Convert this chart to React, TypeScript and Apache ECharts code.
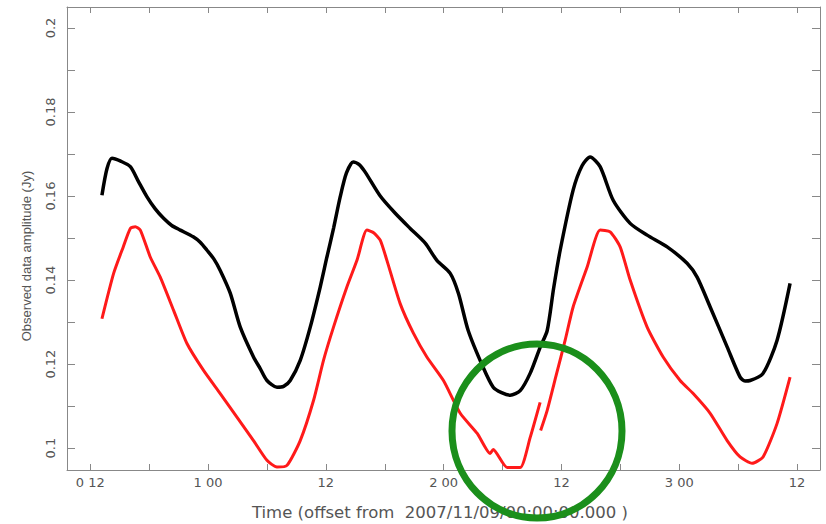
import React, { useEffect, useRef } from "react";
import * as echarts from "echarts";

// Time in hours from 2007/11/09 00:00:00
const blackHours = [13.19, 13.7, 14.21, 15.1, 16.08, 16.9, 17.78, 18.6, 19.47, 20.3, 21.17, 22.49, 23.2, 23.89, 24.6, 25.24, 26.26, 27.28, 28.63, 29.3, 30.0, 31.02, 31.7, 32.37, 33.39, 34.41, 35.43, 36.11, 36.8, 37.46, 38.1, 38.79, 39.4, 40.01, 41.54, 43.07, 44.59, 46.12, 47.31, 48.67, 49.51, 50.5, 52.03, 53.05, 53.9, 54.78, 55.8, 56.81, 57.83, 58.55, 59.2, 59.87, 61.19, 62.1, 62.92, 63.94, 65.27, 67.0, 68.73, 70.77, 72.8, 73.82, 75.15, 76.88, 78.2, 78.7, 79.22, 80.54, 81.97, 83.29];
const blackValues = [0.1602, 0.1665, 0.169, 0.1683, 0.167, 0.1635, 0.1598, 0.157, 0.1547, 0.153, 0.1519, 0.1503, 0.149, 0.1471, 0.145, 0.1423, 0.1369, 0.1288, 0.1217, 0.119, 0.1161, 0.1145, 0.1147, 0.1161, 0.1209, 0.1288, 0.1384, 0.1455, 0.1525, 0.1598, 0.1655, 0.1681, 0.1675, 0.1657, 0.16, 0.1559, 0.1523, 0.1488, 0.1447, 0.1416, 0.1368, 0.128, 0.1192, 0.1145, 0.1132, 0.1126, 0.1137, 0.1178, 0.124, 0.128, 0.138, 0.1471, 0.1614, 0.1672, 0.1693, 0.167, 0.159, 0.1535, 0.1507, 0.1479, 0.144, 0.1407, 0.1336, 0.1241, 0.1169, 0.116, 0.1161, 0.1178, 0.1257, 0.1392];

// null marks the gap between the two overlapping red stretches
const redHours = [13.19, 14.38, 15.36, 16.08, 16.59, 17.1, 18.11, 19.13, 20.49, 21.85, 23.54, 25.24, 26.94, 28.63, 30.0, 31.02, 32.04, 33.39, 34.75, 35.76, 36.78, 38.15, 39.17, 40.18, 40.9, 41.54, 42.22, 43.57, 44.93, 46.29, 47.98, 49.69, 51.42, 52.74, 53.05, 54.47, 55.8, 56.81, 57.83, 57.855, 57.88, 58.55, 59.46, 60.38, 61.19, 62.62, 63.94, 64.96, 65.98, 67.0, 68.73, 70.36, 72.09, 73.42, 75.15, 76.88, 78.2, 79.42, 80.54, 81.97, 83.29];
const redValues: (number | null)[] = [0.1308, 0.1416, 0.1479, 0.1523, 0.1527, 0.1519, 0.1455, 0.1407, 0.1328, 0.1249, 0.1185, 0.113, 0.1074, 0.1018, 0.0971, 0.0955, 0.0959, 0.1018, 0.1114, 0.1209, 0.1288, 0.1384, 0.1447, 0.1519, 0.1512, 0.1495, 0.1447, 0.1344, 0.1273, 0.1217, 0.1161, 0.1083, 0.1035, 0.0987, 0.0997, 0.0954, 0.0954, 0.1025, 0.1109, null, 0.1042, 0.109, 0.1173, 0.1257, 0.1336, 0.1431, 0.1519, 0.1515, 0.1479, 0.14, 0.1288, 0.1217, 0.1161, 0.113, 0.1083, 0.1018, 0.0979, 0.0964, 0.0979, 0.1059, 0.1169];

const xTickHours = [12, 24, 36, 48, 60, 72, 84];
const xTickLabels = ["0 12", "1 00", "12", "2 00", "12", "3 00", "12"];
const yTickValues = [0.1, 0.12, 0.14, 0.16, 0.18, 0.2];
const yTickLabels = ["0.1", "0.12", "0.14", "0.16", "0.18", "0.2"];

const xTitle = "Time (offset from  2007/11/09/00:00:00.000 )";
const yTitle = "Observed data amplitude (Jy)";

const X_MIN = 9.63;
const X_MAX = 86.34;
const Y_MIN = 0.0948;
const Y_MAX = 0.205;

const AXIS_COLOR = "#888";
const TEXT_COLOR = "#555";
const FONT = "DejaVu Sans";

export default function App() {
  const ref = useRef<HTMLDivElement>(null);
  useEffect(() => {
    if (!ref.current) return;
    const chart = echarts.init(ref.current, null, { renderer: "svg" });

    const xLabel = (v: number) => {
      for (let i = 0; i < xTickHours.length; i++) {
        if (Math.abs(v - xTickHours[i]) < 1e-6) return xTickLabels[i];
      }
      return "";
    };
    const yLabel = (v: number) => {
      for (let i = 0; i < yTickValues.length; i++) {
        if (Math.abs(v - yTickValues[i]) < 1e-7) return yTickLabels[i];
      }
      return "";
    };

    const commonX = {
      type: "value" as const,
      min: X_MIN,
      max: X_MAX,
      minInterval: 6,
      maxInterval: 6,
      splitLine: { show: false },
      axisLine: { show: true, onZero: false, lineStyle: { color: AXIS_COLOR, width: 1 } },
      axisTick: { show: true, inside: true, length: 6, lineStyle: { color: AXIS_COLOR } },
    };
    const commonY = {
      type: "value" as const,
      min: Y_MIN,
      max: Y_MAX,
      minInterval: 0.01,
      maxInterval: 0.01,
      splitLine: { show: false },
      axisLine: { show: true, onZero: false, lineStyle: { color: AXIS_COLOR, width: 1 } },
      axisTick: { show: true, inside: true, length: 8, lineStyle: { color: AXIS_COLOR } },
    };

    chart.setOption({
      animation: false,
      backgroundColor: "#ffffff",
      grid: { left: 67, right: 6, top: 7, bottom: 54, containLabel: false },
      xAxis: [
        {
          ...commonX,
          position: "bottom",
          axisLabel: {
            show: true,
            margin: 6,
            color: TEXT_COLOR,
            fontFamily: FONT,
            fontSize: 13,
            showMinLabel: false,
            showMaxLabel: false,
            formatter: xLabel,
          },
        },
        { ...commonX, position: "top", axisLabel: { show: false } },
      ],
      yAxis: [
        {
          ...commonY,
          position: "left",
          axisLabel: {
            show: true,
            rotate: 90,
            margin: 10,
            color: TEXT_COLOR,
            fontFamily: FONT,
            fontSize: 13,
            showMinLabel: false,
            showMaxLabel: false,
            formatter: yLabel,
          },
        },
        { ...commonY, position: "right", axisLabel: { show: false } },
      ],
      graphic: [
        {
          type: "text",
          x: 440,
          y: 512,
          style: {
            text: xTitle,
            fill: TEXT_COLOR,
            font: `16.5px ${FONT}`,
            textAlign: "center",
            textVerticalAlign: "middle",
          },
        },
        {
          type: "text",
          x: 26,
          y: 256,
          rotation: Math.PI / 2,
          style: {
            text: yTitle,
            fill: TEXT_COLOR,
            font: `13px Liberation Sans`,
            textAlign: "center",
            textVerticalAlign: "middle",
          },
        },
        {
          type: "ellipse",
          shape: { cx: 537, cy: 431, rx: 85, ry: 87 },
          style: { fill: "rgba(0,0,0,0)", stroke: "#1b8f1b", lineWidth: 7 },
          z: 100,
        },
      ],
      series: [
        {
          type: "line",
          xAxisIndex: 0,
          yAxisIndex: 0,
          showSymbol: false,
          symbol: "none",
          smooth: 0.25,
          lineStyle: { color: "#000000", width: 3.5 },
          data: blackHours.map((h, i) => [h, blackValues[i]]),
        },
        {
          type: "line",
          xAxisIndex: 0,
          yAxisIndex: 0,
          showSymbol: false,
          symbol: "none",
          smooth: 0.2,
          connectNulls: false,
          lineStyle: { color: "#ff1a1a", width: 3 },
          data: redHours.map((h, i) => [h, redValues[i] === null ? "-" : redValues[i]]),
        },
      ],
    });
    return () => chart.dispose();
  }, []);
  return (
    <div
      ref={ref}
      style={{ position: "absolute", left: 0, top: 0, width: 826, height: 524 }}
    />
  );
}
